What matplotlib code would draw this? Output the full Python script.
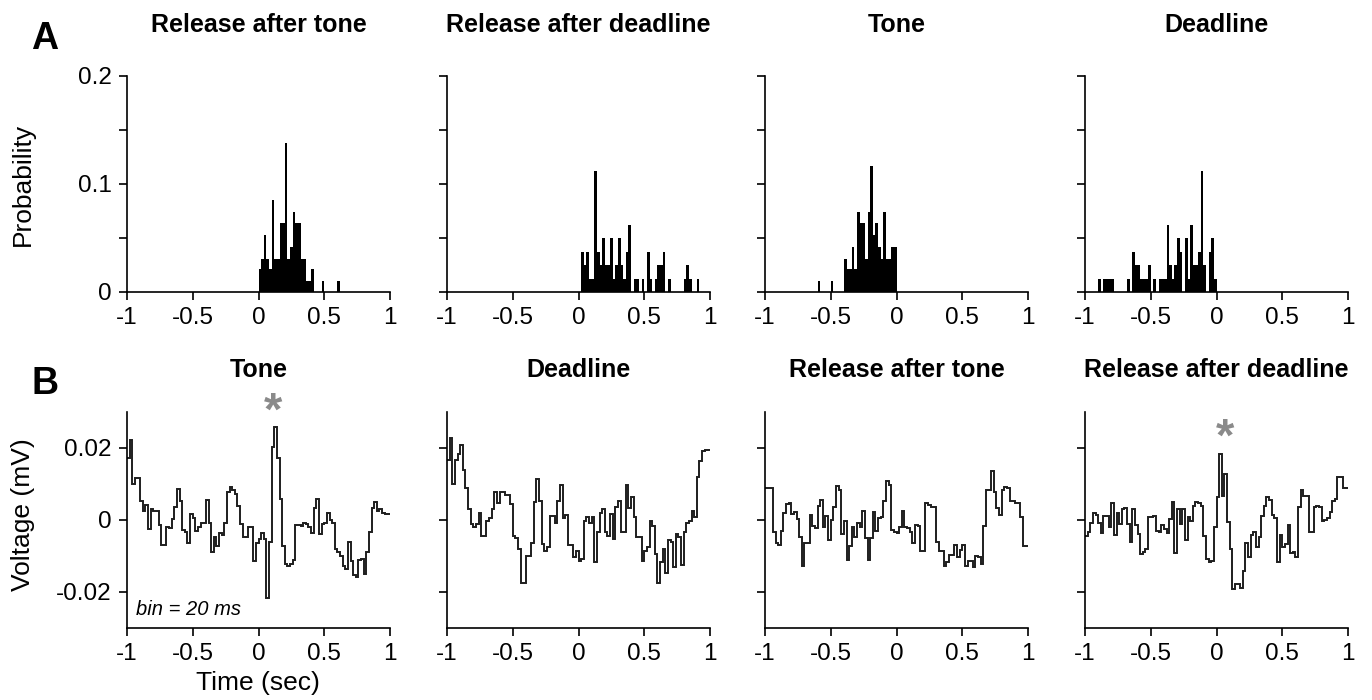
import matplotlib
matplotlib.use("Agg")
import matplotlib.pyplot as plt
import numpy as np

plt.rcParams["font.family"] = ["Liberation Sans", "DejaVu Sans"]

# ---- data -------------------------------------------------------------
bin_w = 0.02  # 20 ms bins

# row A: probability histograms (consecutive 20 ms bins from a start time)
hist_titles = ["Release after tone", "Release after deadline", "Tone", "Deadline"]
hist_start = [0.0, 0.02, -0.60, -0.90]
hist_rel_tone = [0.021, 0.031, 0.053, 0.031, 0.021, 0.085, 0.031, 0.031, 0.064, 0.064,
                 0.138, 0.031, 0.042, 0.074, 0.064, 0.064, 0.031, 0.031, 0.010, 0.010,
                 0.021, 0, 0, 0, 0.010, 0, 0, 0, 0, 0, 0.010]
hist_rel_deadline = [0.037, 0.025, 0.037, 0.012, 0.012, 0.112, 0.037, 0.025, 0.050, 0.025,
                     0.025, 0.050, 0.012, 0.025, 0.050, 0.025, 0.012, 0.037, 0.062, 0,
                     0.012, 0.012, 0, 0.012, 0, 0.037, 0.012, 0, 0.012, 0.025,
                     0.025, 0.037, 0, 0.012, 0, 0, 0, 0, 0, 0.012,
                     0.025, 0.012, 0, 0, 0.012]
hist_tone = [0.010, 0, 0, 0, 0, 0.010, 0, 0, 0, 0,
             0.031, 0.021, 0.021, 0.042, 0.021, 0.074, 0.064, 0.064, 0.031, 0.074,
             0.117, 0.053, 0.064, 0.042, 0.031, 0.074, 0.031, 0.031, 0.042, 0.042]
hist_deadline = [0.012, 0, 0.012, 0.012, 0.012, 0.012, 0, 0, 0, 0,
                 0, 0.012, 0, 0.037, 0.025, 0.025, 0.012, 0.012, 0.012, 0.025,
                 0, 0.012, 0, 0.012, 0.012, 0.012, 0.062, 0.025, 0.012, 0.025,
                 0.050, 0.037, 0, 0.050, 0.012, 0.062, 0.025, 0.025, 0.037, 0.112,
                 0.025, 0, 0.037, 0.050, 0.012]

# row B: averaged voltage, 100 bins of 20 ms from -1 to 1 s (mV)
volt_titles = ["Tone", "Deadline", "Release after tone", "Release after deadline"]
volt_tone = [0.0173, 0.0223, 0.0100, 0.0117, 0.0117, 0.0052, 0.0026, 0.0043, -0.0025, 0.0031,
             0.0026, 0.0026, -0.0013, -0.0070, -0.0070, -0.0019, -0.0022, 0.0003, 0.0035, 0.0087,
             0.0052, -0.0028, -0.0032, -0.0065, 0.0017, 0.0006, -0.0030, -0.0020, -0.0009, -0.0008,
             0.0056, -0.0009, -0.0090, -0.0048, -0.0073, -0.0037, -0.0041, -0.0007, 0.0077, 0.0091,
             0.0082, 0.0071, 0.0039, -0.0011, -0.0047, -0.0047, -0.0019, -0.0020, -0.0113, -0.0065,
             -0.0053, -0.0037, -0.0054, -0.0216, -0.0062, 0.0203, 0.0259, 0.0173, 0.0059, -0.0072,
             -0.0123, -0.0127, -0.0121, -0.0112, -0.0013, -0.0013, -0.0018, -0.0008, -0.0011, -0.0019,
             -0.0037, 0.0033, 0.0057, -0.0039, -0.0011, -0.0009, 0.0019, 0.0000, -0.0007, -0.0081,
             -0.0090, -0.0100, -0.0127, -0.0137, -0.0062, -0.0113, -0.0153, -0.0158, -0.0112, -0.0109,
             -0.0149, -0.0090, -0.0034, 0.0033, 0.0049, 0.0024, 0.0031, 0.0019, 0.0017, 0.0017]
volt_deadline = [0.0167, 0.0229, 0.0099, 0.0167, 0.0182, 0.0207, 0.0140, 0.0089, 0.0031, -0.0011,
                 -0.0019, -0.0011, 0.0019, -0.0044, -0.0044, -0.0002, 0.0006, 0.0031, 0.0077, 0.0047,
                 0.0077, 0.0077, 0.0070, 0.0070, 0.0045, -0.0044, -0.0050, -0.0081, -0.0174, -0.0176,
                 -0.0100, -0.0100, -0.0064, 0.0049, 0.0114, 0.0054, -0.0067, -0.0087, -0.0076, 0.0012,
                 0.0012, -0.0007, 0.0052, 0.0096, 0.0006, 0.0015, -0.0069, -0.0069, -0.0104, -0.0087,
                 -0.0113, -0.0109, -0.0004, 0.0009, -0.0007, 0.0009, -0.0118, -0.0032, 0.0019, 0.0031,
                 -0.0034, -0.0044, 0.0017, -0.0053, 0.0035, 0.0052, -0.0032, -0.0032, 0.0096, 0.0033,
                 0.0063, 0.0007, -0.0046, -0.0046, -0.0113, -0.0087, -0.0074, -0.0002, -0.0016, -0.0095,
                 -0.0174, -0.0118, -0.0081, -0.0146, -0.0056, -0.0062, -0.0130, -0.0039, -0.0048, -0.0125,
                 -0.0032, -0.0009, -0.0004, 0.0024, 0.0009, 0.0119, 0.0163, 0.0192, 0.0195, 0.0195]
volt_rel_tone = [0.0089, 0.0089, 0.0089, -0.0034, -0.0065, -0.0069, -0.0030, 0.0020, 0.0045, 0.0047,
                 0.0017, 0.0021, 0.0003, -0.0047, -0.0127, -0.0065, -0.0065, 0.0015, -0.0017, -0.0022,
                 0.0040, 0.0056, -0.0019, 0.0012, -0.0056, 0.0000, 0.0037, 0.0095, 0.0082, -0.0039,
                 -0.0002, -0.0112, -0.0072, -0.0020, -0.0047, -0.0009, -0.0020, 0.0024, -0.0050, -0.0112,
                 -0.0050, 0.0021, -0.0030, 0.0006, 0.0007, 0.0054, 0.0108, 0.0096, -0.0028, -0.0032,
                 -0.0037, -0.0020, 0.0024, -0.0020, -0.0022, -0.0032, -0.0065, -0.0013, -0.0016, -0.0086,
                 -0.0086, 0.0047, 0.0043, 0.0035, 0.0035, -0.0060, -0.0086, -0.0087, -0.0127, -0.0118,
                 -0.0097, -0.0097, -0.0070, -0.0102, -0.0084, -0.0070, -0.0127, -0.0113, -0.0115, -0.0130,
                 -0.0100, -0.0102, -0.0123, -0.0016, 0.0082, 0.0082, 0.0136, 0.0077, 0.0033, 0.0014,
                 0.0082, 0.0093, 0.0089, 0.0052, 0.0052, 0.0047, 0.0047, 0.0007, -0.0073, -0.0073]
volt_rel_deadline = [-0.0044, -0.0034, -0.0009, 0.0019, 0.0015, -0.0007, -0.0037, 0.0012, 0.0012, -0.0020,
                     0.0047, -0.0041, 0.0019, -0.0011, 0.0031, 0.0033, -0.0011, -0.0060, 0.0031, -0.0013,
                     -0.0039, -0.0095, -0.0088, -0.0081, 0.0007, 0.0009, 0.0012, -0.0030, -0.0032, -0.0013,
                     -0.0025, -0.0037, 0.0003, 0.0049, -0.0093, 0.0031, -0.0011, 0.0031, -0.0056, 0.0007,
                     -0.0002, 0.0040, 0.0049, 0.0047, 0.0040, -0.0044, -0.0109, -0.0118, -0.0115, -0.0019,
                     0.0065, 0.0182, 0.0067, 0.0127, -0.0006, -0.0081, -0.0193, -0.0179, -0.0177, -0.0188,
                     -0.0143, -0.0065, -0.0104, -0.0041, -0.0032, -0.0076, -0.0047, 0.0012, 0.0040, 0.0063,
                     0.0056, 0.0015, 0.0006, -0.0118, -0.0041, -0.0074, -0.0067, -0.0013, -0.0093, -0.0090,
                     -0.0104, 0.0035, 0.0082, 0.0068, 0.0068, -0.0034, -0.0032, 0.0035, 0.0040, 0.0035,
                     -0.0002, 0.0000, 0.0005, 0.0021, 0.0052, 0.0059, 0.0119, 0.0119, 0.0089, 0.0089]

# significance markers (time, voltage) on panels B1 and B4
star_tone = (0.11, 0.0297)
star_rel_deadline = (0.065, 0.0227)

x_ticks = [-1, -0.5, 0, 0.5, 1]
x_tick_labels = ["-1", "-0.5", "0", "0.5", "1"]

# ---- figure -----------------------------------------------------------
W, H = 1372, 700
fig = plt.figure(figsize=(W / 100, H / 100), dpi=100)


def px(x, y):
    return x / W, 1 - y / H


lefts = [127, 447, 765, 1085]
ax_w = 263
tick_fs = 17.5


def style(ax):
    for s in ["top", "right"]:
        ax.spines[s].set_visible(False)
    for s in ["left", "bottom"]:
        ax.spines[s].set_linewidth(1.2)
    ax.tick_params(direction="out", length=6, width=1.2, labelsize=tick_fs, pad=5)
    ax.set_xlim(-1, 1)
    ax.set_xticks(x_ticks)
    ax.set_xticklabels(x_tick_labels)


hists = [hist_rel_tone, hist_rel_deadline, hist_tone, hist_deadline]
for i, (left, title, start, probs) in enumerate(zip(lefts, hist_titles, hist_start, hists)):
    ax = fig.add_axes([left / W, 1 - 292 / H, ax_w / W, 216 / H])
    probs = np.array(probs)
    lefts_t = start + bin_w * np.arange(len(probs))
    ax.bar(lefts_t, probs, width=bin_w, align="edge", color="black", linewidth=0)
    style(ax)
    ax.set_ylim(0, 0.2)
    ax.set_yticks([0, 0.05, 0.1, 0.15, 0.2])
    ax.set_yticklabels(["0", "", "0.1", "", "0.2"] if i == 0 else [""] * 5)
    fig.text(*px(left + ax_w / 2, 32), title, ha="center", va="baseline",
             fontsize=18, fontweight="bold")

edges = np.linspace(-1, 1, 101)
volts = [volt_tone, volt_deadline, volt_rel_tone, volt_rel_deadline]
stars = [star_tone, None, None, star_rel_deadline]
for i, (left, title, v, star) in enumerate(zip(lefts, volt_titles, volts, stars)):
    ax = fig.add_axes([left / W, 1 - 628 / H, ax_w / W, 216 / H])
    ax.stairs(v, edges, baseline=None, color="#1e1e1e", linewidth=1.4)
    style(ax)
    ax.set_ylim(-0.03, 0.03)
    ax.set_yticks([-0.02, 0, 0.02])
    ax.set_yticklabels(["-0.02", "0", "0.02"] if i == 0 else [""] * 3)
    if star is not None:
        ax.text(star[0], star[1], "*", ha="center", va="center", fontsize=34,
                fontweight="bold", color="#8a8a8a", clip_on=False)
    fig.text(*px(left + ax_w / 2, 377), title, ha="center", va="baseline",
             fontsize=18, fontweight="bold")
    if i == 0:
        ax.text(-0.93, -0.0265, "bin = 20 ms", fontsize=14.5, fontstyle="italic",
                ha="left", va="baseline")

# panel letters and shared labels
fig.text(*px(31, 49), "A", fontsize=27, fontweight="bold", ha="left", va="baseline")
fig.text(*px(31, 394), "B", fontsize=27, fontweight="bold", ha="left", va="baseline")
fig.text(*px(23, 184), "Probability", rotation=90, fontsize=19, ha="center", va="center")
fig.text(*px(23, 515), "Voltage (mV)", rotation=90, fontsize=19, ha="center", va="center")
fig.text(*px(258, 683), "Time (sec)", fontsize=19, ha="center", va="center")

fig.savefig("out.png", dpi=100)
